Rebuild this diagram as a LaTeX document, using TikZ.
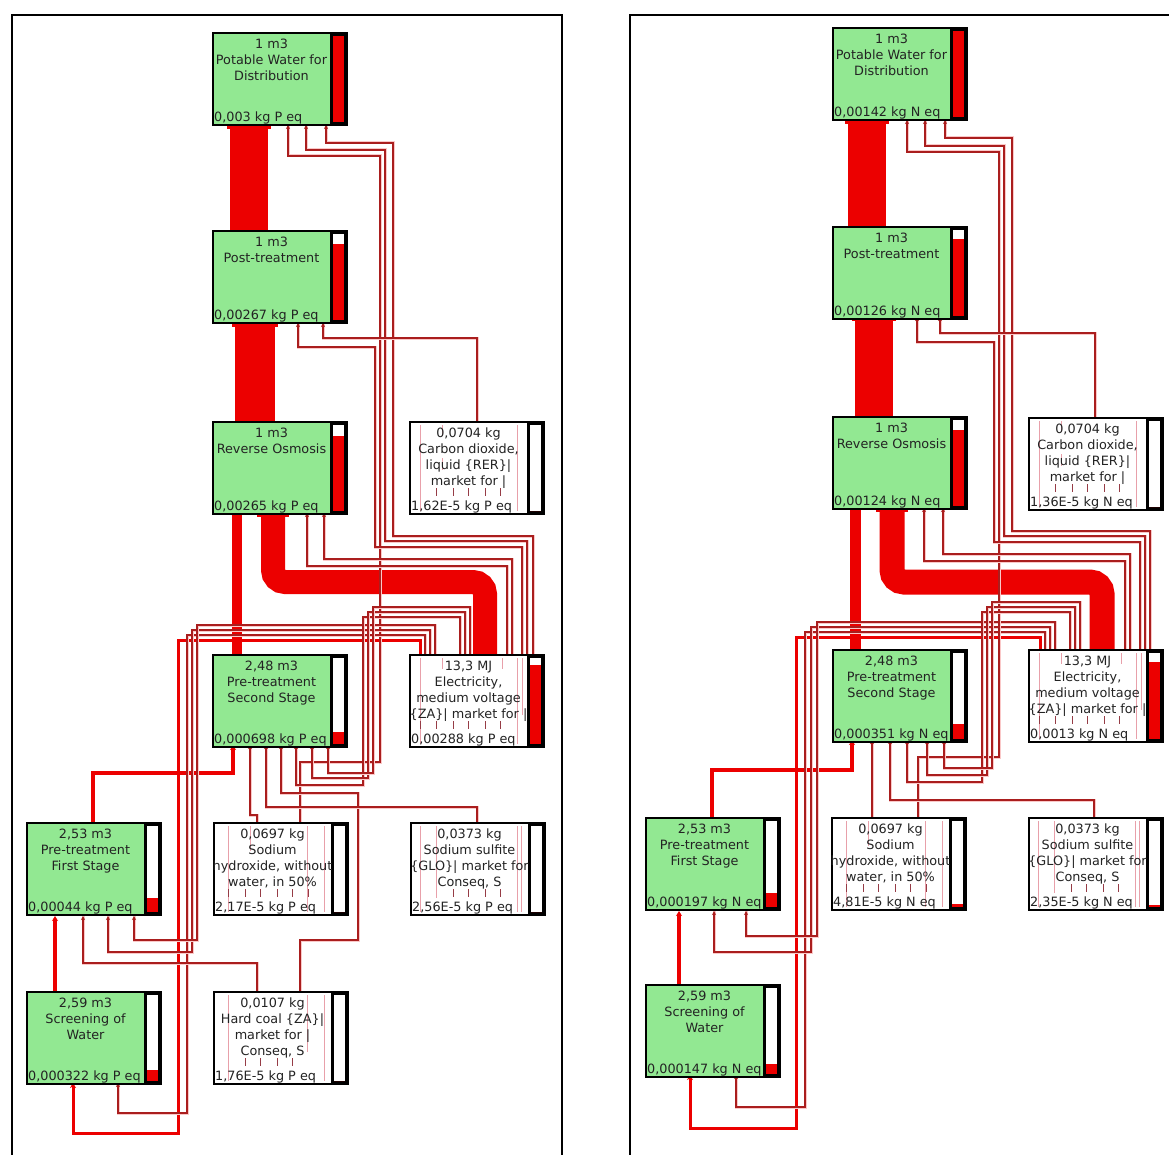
\documentclass[tikz,border=0pt]{standalone}
\usepackage{fontspec}
\newfontfamily\boxfont{DejaVu Sans}
\usetikzlibrary{arrows.meta}
\definecolor{procgreen}{RGB}{146,232,146}
\definecolor{bandred}{RGB}{236,0,0}
\definecolor{wirered}{RGB}{170,30,30}
\definecolor{halo}{RGB}{250,200,200}
\definecolor{ghost}{RGB}{232,160,170}
\definecolor{tick}{RGB}{150,60,70}
\definecolor{inkgray}{RGB}{35,35,35}

\tikzset{
  boxframe/.style={draw=black, line width=1.4pt, minimum width=134pt, minimum height=92pt,
    inner sep=0pt, outer sep=0pt, anchor=north west},
  proc/.style={boxframe, fill=procgreen},
  mat/.style={boxframe, fill=white},
  boxtext/.style={font=\boxfont\fontsize{12.8}{16}\selectfont, text=inkgray, align=center, inner sep=0pt},
  band/.style={draw=bandred, line cap=butt},
  flow/.style={draw=bandred, line width=3.6pt, -{Stealth[length=5pt,width=6pt]}},
  wire/.style={draw=wirered, line width=1.1pt, -{Stealth[length=4pt,width=4pt]},
    preaction={draw=halo, line width=3pt, -}},
  ghostline/.style={draw=ghost, line width=1pt},
  tickline/.style={draw=tick, line width=0.9pt},
  frame/.style={draw=black, line width=1.2pt},
}

% lines seen through the white boxes (box-relative coordinates)
\newcommand\gv[3]{\draw[ghostline] (#1,#2) -- (#1,#3);}
\newcommand\gt[1]{\draw[tickline] (#1,66) -- (#1,74);}

% #1 name, #2 style, #3 x, #4 y, #5 upper text, #6 score, #7 bar fill, #8 see-through lines
\newcommand\procbox[8]{%
  \node[#2] (#1) at (#3,#4) {};
  \begin{scope}[shift={(#3,#4)}]
    #8
    \fill[black] (117,0) rectangle (134,92);
    \fill[white] (120,3) rectangle (131,89);
    \fill[bandred] (120,{89-86*#7}) rectangle (131,89);
    \draw[black, line width=1.4pt] (0,0) rectangle (134,92);
    \node[boxtext, anchor=north] at (58.5,5.5) {#5};
    \node[boxtext, anchor=south west] at (1,91.5) {#6};
  \end{scope}
}
\newcommand\coo{\gv{10}{3}{89}\gv{32}{3}{14}\gv{32}{36}{48}\gv{107}{3}{89}\gt{26}\gt{43}\gt{58}\gt{75}\gt{90}}
\newcommand\ele{\gv{10}{3}{89}\gv{32}{3}{14}\gv{92}{3}{14}\gv{107}{3}{89}\gv{112}{3}{60}\gt{10}\gt{26}\gt{43}\gt{58}\gt{75}\gt{90}}
\newcommand\nao{\gv{14}{3}{89}\gv{36}{3}{28}\gv{93}{3}{89}\gv{110}{3}{89}\gt{14}\gt{31}\gt{46}\gt{63}\gt{78}\gt{94}}
\newcommand\hco{\gv{14}{3}{89}\gv{93}{3}{60}\gv{110}{3}{89}\gt{31}\gt{46}\gt{63}\gt{78}}
\newcommand\sul{\gv{9}{3}{89}\gv{25}{3}{75}\gv{106}{3}{89}\gv{110}{3}{89}\gt{42}\gt{57}\gt{74}\gt{89}}

\begin{document}
\begin{tikzpicture}[x=1pt, y=-1pt]
\useasboundingbox (0,0) rectangle (1169,1155);
\fill[white] (0,0) rectangle (1169,1155);

% panel frames
\draw[frame] (12,1170) -- (12,15) -- (562,15) -- (562,1170);
\draw[frame] (630,1170) -- (630,15) -- (1180,15);

% ---------------- left network ----------------
\draw[band, line width=38pt] (249,231) -- (249,125);
\fill[bandred] (227,125) rectangle (271,129);
\draw[band, line width=40pt] (255,422) -- (255,323);
\fill[bandred] (232,323) rectangle (278,327);
\draw[band, line width=10pt] (237,655) -- (237,513);
\draw[band, line width=24pt, rounded corners=12pt] (485,655) |- (273,582) -- (273,513);
\fill[bandred] (257,513) rectangle (289,517);
\draw[flow] (93,823) |- (233,773) -- (233,745);
\draw[flow] (55,992) -- (55,916);
\draw[flow, line width=3pt] (420,655) |- (178,640) |- (73,1133) -- (73,1083);

\draw[wire] (300,823) |- (380,762) |- (288,156) -- (288,125);
\draw[wire, line width=2.2pt] (533,655) |- (393,536) |- (326,143) -- (326,125);
\draw[wire] (527,655) |- (385,541) |- (306,150) -- (306,125);
\draw[wire] (522,655) |- (375,547) |- (298,347) -- (298,323);
\draw[wire] (477,422) |- (323,338) -- (323,323);
\draw[wire] (512,655) |- (324,559) -- (324,513);
\draw[wire] (507,655) |- (307,566) -- (307,513);
\draw[wire] (425,655) |- (187,635) |- (118,1113) -- (118,1083);
\draw[wire] (430,655) |- (192,630) |- (108,952) -- (108,916);
\draw[wire] (435,655) |- (197,625) |- (134,940) -- (134,916);
\draw[wire] (257,992) |- (83,963) -- (83,916);
\draw[wire] (300,992) |- (358,940) |- (281,793) -- (281,745);
\draw[wire] (257,823) |- (250,815) -- (250,745);
\draw[wire] (477,823) |- (266,807) -- (266,745);
\draw[wire] (460,655) |- (363,617) |- (296,785) -- (296,745);
\draw[wire] (465,655) |- (368,612) |- (312,778) -- (312,745);
\draw[wire] (470,655) |- (373,607) |- (328,773) -- (328,745);

\procbox{Lpot}{proc}{213}{33}{1 m3\\Potable Water for\\Distribution}{0,003 kg P eq}{1}{}
\procbox{Lpost}{proc}{213}{231}{1 m3\\Post-treatment}{0,00267 kg P eq}{0.88}{}
\procbox{Lro}{proc}{213}{422}{1 m3\\Reverse Osmosis}{0,00265 kg P eq}{0.87}{}
\procbox{Lsec}{proc}{213}{655}{2,48 m3\\Pre-treatment\\Second Stage}{0,000698 kg P eq}{0.14}{}
\procbox{Lco2}{mat}{410}{422}{0,0704 kg\\Carbon dioxide,\\liquid \{RER\}|\\market for |}{1,62E-5 kg P eq}{0}{\coo}
\procbox{Lelec}{mat}{410}{655}{13,3 MJ\\Electricity,\\medium voltage\\\{ZA\}| market for |}{0,00288 kg P eq}{0.92}{\ele}
\procbox{Lfirst}{proc}{27}{823}{2,53 m3\\Pre-treatment\\First Stage}{0,00044 kg P eq}{0.16}{}
\procbox{Lnaoh}{mat}{214}{823}{0,0697 kg\\Sodium\\hydroxide, without\\water, in 50\%}{2,17E-5 kg P eq}{0}{\nao}
\procbox{Lsulf}{mat}{411}{823}{0,0373 kg\\Sodium sulfite\\\{GLO\}| market for\\Conseq, S}{2,56E-5 kg P eq}{0}{\sul}
\procbox{Lscreen}{proc}{27}{992}{2,59 m3\\Screening of\\Water}{0,000322 kg P eq}{0.13}{}
\procbox{Lcoal}{mat}{214}{992}{0,0107 kg\\Hard coal \{ZA\}|\\market for |\\Conseq, S}{1,76E-5 kg P eq}{0}{\hco}

% ---------------- right network ----------------
\draw[band, line width=38pt] (867,227) -- (867,120);
\fill[bandred] (845,120) rectangle (889,124);
\draw[band, line width=38pt] (874,417) -- (874,317);
\fill[bandred] (852,317) rectangle (896,321);
\draw[band, line width=11pt] (855,650) -- (855,508);
\draw[band, line width=25pt, rounded corners=12pt] (1102,650) |- (892,582) -- (892,508);
\fill[bandred] (876,508) rectangle (908,512);
\draw[flow] (712,818) |- (852,770) -- (852,740);
\draw[flow] (679,985) -- (679,911);
\draw[flow, line width=3pt] (1040,650) |- (796,637) |- (690,1128) -- (690,1075);

\draw[wire] (1045,650) |- (805,632) |- (736,1107) -- (736,1075);
\draw[wire] (1050,650) |- (811,627) |- (714,952) -- (714,911);
\draw[wire] (1055,650) |- (817,622) |- (746,936) -- (746,911);
\draw[wire] (918,818) |- (999,757) |- (907,152) -- (907,120);
\draw[wire, line width=2.2pt] (1150,650) |- (1012,531) |- (945,138) -- (945,120);
\draw[wire] (1145,650) |- (1004,536) |- (925,146) -- (925,120);
\draw[wire] (1140,650) |- (994,542) |- (917,342) -- (917,317);
\draw[wire] (1095,418) |- (940,333) -- (940,317);
\draw[wire] (1130,650) |- (943,554) -- (943,508);
\draw[wire] (1125,650) |- (924,561) -- (924,508);
\draw[wire] (872,818) -- (872,740);
\draw[wire] (1094,818) |- (890,800) -- (890,740);
\draw[wire] (1070,650) |- (982,612) |- (907,782) -- (907,740);
\draw[wire] (1075,650) |- (987,607) |- (927,775) -- (927,740);
\draw[wire] (1080,650) |- (992,602) |- (944,768) -- (944,740);

\procbox{Rpot}{proc}{833}{28}{1 m3\\Potable Water for\\Distribution}{0,00142 kg N eq}{1}{}
\procbox{Rpost}{proc}{833}{227}{1 m3\\Post-treatment}{0,00126 kg N eq}{0.89}{}
\procbox{Rro}{proc}{833}{417}{1 m3\\Reverse Osmosis}{0,00124 kg N eq}{0.88}{}
\procbox{Rsec}{proc}{833}{650}{2,48 m3\\Pre-treatment\\Second Stage}{0,000351 kg N eq}{0.17}{}
\procbox{Rco2}{mat}{1029}{418}{0,0704 kg\\Carbon dioxide,\\liquid \{RER\}|\\market for |}{1,36E-5 kg N eq}{0}{\coo}
\procbox{Relec}{mat}{1029}{650}{13,3 MJ\\Electricity,\\medium voltage\\\{ZA\}| market for |}{0,0013 kg N eq}{0.9}{\ele}
\procbox{Rfirst}{proc}{646}{818}{2,53 m3\\Pre-treatment\\First Stage}{0,000197 kg N eq}{0.16}{}
\procbox{Rnaoh}{mat}{832}{818}{0,0697 kg\\Sodium\\hydroxide, without\\water, in 50\%}{4,81E-5 kg N eq}{0.03}{\nao}
\procbox{Rsulf}{mat}{1029}{818}{0,0373 kg\\Sodium sulfite\\\{GLO\}| market for\\Conseq, S}{2,35E-5 kg N eq}{0.02}{\sul}
\procbox{Rscreen}{proc}{646}{985}{2,59 m3\\Screening of\\Water}{0,000147 kg N eq}{0.12}{}
\end{tikzpicture}
\end{document}
